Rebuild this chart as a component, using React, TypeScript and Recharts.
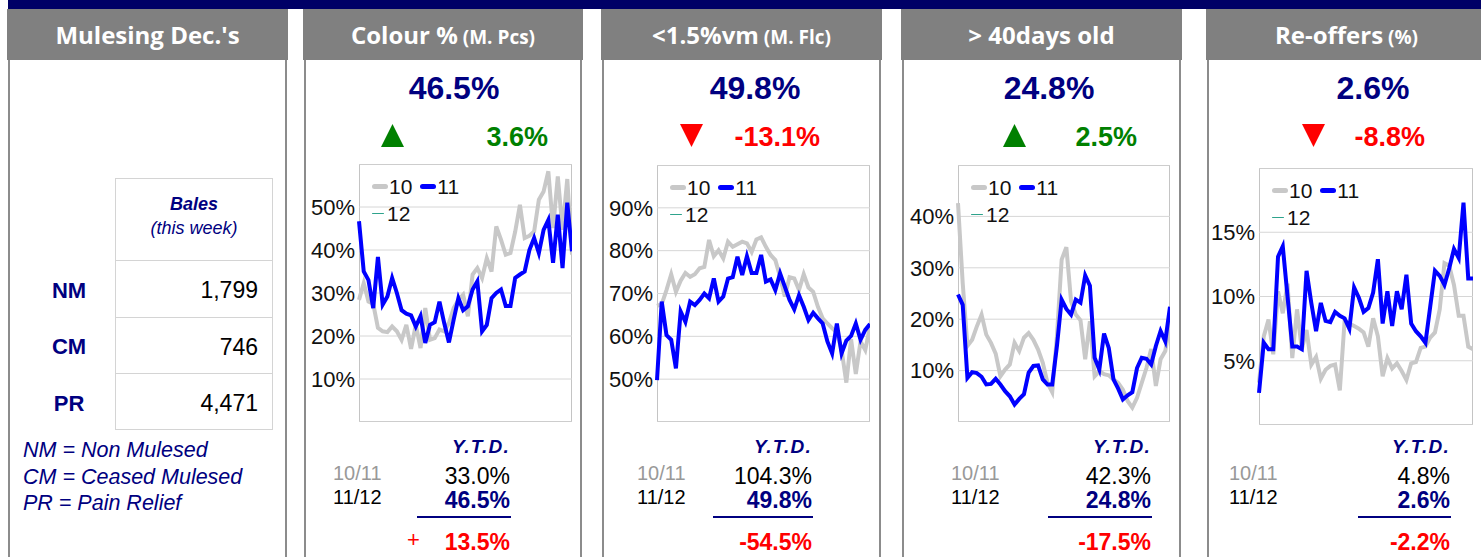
import React from 'react'
import { LineChart, Line, XAxis, YAxis, CartesianGrid, Legend } from 'recharts'

// weekly points, season 10 (grey) vs season 11 (blue); season 12 has no data yet
const weeks = [1, 2, 3, 4, 5, 6, 7, 8, 9, 10, 11, 12, 13, 14, 15, 16, 17, 18, 19, 20, 21, 22, 23, 24, 25, 26, 27, 28, 29, 30, 31, 32, 33, 34, 35, 36, 37, 38, 39, 40, 41, 42, 43, 44, 45, 46]
const seriesNames = ['10', '11', '12']

const colour10 = [28.4, 32.3, 28, 27.5, 21.9, 21.1, 20.9, 22.2, 21.1, 19.1, 22.6, 17, 22.6, 17.2, 26.5, 19.1, 19.5, 21.5, 21.1, 23, 26.5, 28.4, 29.6, 24.6, 34.3, 35.8, 33.5, 38.1, 35, 45.5, 42.4, 38.9, 39.3, 44.3, 50.5, 42.8, 43.3, 44.3, 51.7, 53.6, 58.3, 45.1, 57.1, 44.7, 56.5, 38.9]
const colour11 = [46.7, 35, 33, 26.5, 38.4, 27.3, 29.2, 33.5, 30, 26, 25.2, 24.8, 22.2, 24.6, 18.4, 22.6, 23.2, 28, 23, 18.5, 23.8, 28.8, 26, 26.9, 30.8, 32.7, 21.1, 22.6, 28.8, 30, 30.8, 27, 27, 33.5, 34.3, 35, 40, 42.8, 39.3, 44.7, 47, 37, 48.2, 35.8, 51, 39.7]

const vm10 = [67.1, 67.5, 70.8, 74.5, 70.4, 73, 74.8, 73.9, 74.5, 75.9, 76.2, 82.5, 78.7, 80.1, 78.2, 82.1, 80.9, 81.5, 82.1, 81.7, 79.7, 82.6, 83.1, 80.9, 79, 77.8, 73.9, 69.3, 73.8, 73.5, 70.8, 74.5, 71.4, 70.4, 66.9, 64.2, 63, 61.9, 60.9, 56.8, 49.2, 59.3, 51.2, 58.8, 56.8, 62.3]
const vm11 = [49.8, 68.1, 60.3, 59.2, 52.5, 65.8, 63.4, 68.1, 67.3, 68.5, 70, 68.9, 73.5, 68.1, 69.3, 73.5, 73.8, 78.6, 74.3, 78.7, 74.8, 74.8, 79, 72.8, 73.3, 70.8, 74.7, 71.6, 68.5, 66.3, 69.6, 66.9, 63.8, 65.5, 64.2, 63, 58.8, 56, 63, 56, 59, 60.1, 63, 59.2, 61.5, 62.9]

const age10 = [42.6, 27, 14.8, 16, 18.6, 20.9, 17, 15.4, 13.3, 8.9, 10.2, 11.2, 15.4, 13.8, 16.4, 17.3, 16, 14.1, 11.5, 7.6, 5.8, 16.7, 31.6, 34, 23.5, 20.9, 19.8, 12.2, 19.6, 8.9, 9.9, 9.3, 9.1, 8.3, 7.6, 6.3, 4.1, 2.8, 4.7, 7.6, 10.5, 14.2, 7, 12.2, 13.8, 19.3]
const age11 = [24.8, 22.8, 8.6, 9.7, 9.5, 8.8, 7.3, 7.4, 8.4, 7.3, 6, 5, 3.4, 4.5, 5.4, 9.6, 10.9, 11, 8.3, 7.3, 7.3, 14.8, 23.8, 22, 20.9, 23.8, 23.2, 28.5, 26.5, 12.5, 10.2, 17.2, 14.4, 8.3, 6.5, 4.4, 5.2, 5.8, 10.5, 12.5, 12.3, 11.2, 14.8, 17.7, 15.7, 22.4]

const reoffer10 = [3.3, 6.9, 8.2, 5.5, 10.4, 8.7, 11, 5.2, 9, 5.9, 7.4, 4.7, 5.3, 3.6, 4.3, 4.6, 4.7, 2.7, 8.1, 7.9, 7.7, 7.5, 7.2, 6.1, 8.3, 6.9, 3.8, 5.2, 4.4, 4.8, 4.2, 3.5, 4.8, 4.9, 6, 6.1, 6.8, 7.2, 9, 12.6, 12.4, 10.9, 8.5, 8.5, 6.1, 5.9]
const reoffer11 = [2.5, 6.4, 5.9, 5.9, 13.1, 13.9, 10, 6.1, 6.1, 5.9, 12, 9.5, 7.3, 9.5, 8.1, 8, 8.8, 8.5, 8.3, 7.5, 10.7, 9.9, 8.8, 9.1, 10.3, 12.9, 7.9, 10.4, 7.7, 10.4, 9, 11.7, 7.9, 7.3, 6.9, 6.4, 9.2, 12, 11.6, 10.9, 12.2, 13.7, 13, 17.3, 11.4, 11.4]

const colourTicks = [10, 20, 30, 40, 50]
const vmTicks = [50, 60, 70, 80, 90]
const ageTicks = [10, 20, 30, 40]
const reofferTicks = [5, 10, 15]

const titles = ['Colour %', '<1.5%vm', '> 40days old', 'Re-offers']
const subTitles = ['(M. Pcs)', '(M. Flc)', '', '(%)']
const headline = ['46.5%', '49.8%', '24.8%', '2.6%']
const weekChange = ['3.6%', '-13.1%', '2.5%', '-8.8%']
const ytdPrev = ['33.0%', '104.3%', '42.3%', '4.8%']
const ytdCur = ['46.5%', '49.8%', '24.8%', '2.6%']
const ytdDiff = ['13.5%', '-54.5%', '-17.5%', '-2.2%']

const baleLabels = ['NM', 'CM', 'PR']
const baleCounts = ['1,799', '746', '4,471']
const baleNotes = ['NM = Non Mulesed', 'CM = Ceased Mulesed', 'PR = Pain Relief']

const FONT = '"Liberation Sans", Arial, sans-serif'
const HEAD_FONT = '"Open Sans", sans-serif'
const NAVY = '#000080'
const GREY_LINE = '#c8c8c8'
const BLUE = '#0000ff'
const TEAL = '#2ea38c'
const HEADER_BG = '#808080'
const BORDER = '#8c8c8c'
const AXIS_W = 50

const panels = [
  { x: 303, w: 280, s10: colour10, s11: colour11, ticks: colourTicks, domain: [0, 60], plotLeft: 359, plotTop: 164, plotW: 213, plotH: 258, bigCx: 454, triX: 381, chgRight: 548, ytdRight: 510, labelX: 333, lineLeft: 417, up: true },
  { x: 601, w: 281, s10: vm10, s11: vm11, ticks: vmTicks, domain: [40, 100], plotLeft: 657, plotTop: 165, plotW: 213, plotH: 257, bigCx: 755, triX: 680, chgRight: 820, ytdRight: 812, labelX: 637, lineLeft: 713, up: false },
  { x: 901, w: 281, s10: age10, s11: age11, ticks: ageTicks, domain: [0, 50], plotLeft: 958, plotTop: 165, plotW: 212, plotH: 257, bigCx: 1049, triX: 1003, chgRight: 1137, ytdRight: 1151, labelX: 951, lineLeft: 1048, up: true },
  { x: 1206, w: 281, s10: reoffer10, s11: reoffer11, ticks: reofferTicks, domain: [0, 20], plotLeft: 1259, plotTop: 168, plotW: 214, plotH: 257, bigCx: 1373, triX: 1302, chgRight: 1425, ytdRight: 1450, labelX: 1229, lineLeft: 1358, up: false },
]

function Txt({ left, cy, width, align = 'left', size = 21, color = '#000', bold = false, italic = false, family = FONT, spacing = 0, children }: any) {
  const lh = Math.round(size * 1.3)
  return (
    <div style={{ position: 'absolute', left, top: cy - lh / 2, width, height: lh, lineHeight: lh + 'px', fontSize: size, fontFamily: family, color, fontWeight: bold ? 700 : 400, fontStyle: italic ? 'italic' : 'normal', textAlign: align, whiteSpace: 'nowrap', letterSpacing: spacing }}>
      {children}
    </div>
  )
}

function Frame({ x, w, children }: any) {
  return (
    <>
      <div style={{ position: 'absolute', left: x, top: 9, width: w, height: 51, background: HEADER_BG, color: '#fff', fontFamily: HEAD_FONT, fontWeight: 700, fontSize: 24, lineHeight: '51px', textAlign: 'center', whiteSpace: 'nowrap' }}>
        {children}
      </div>
      <div style={{ position: 'absolute', left: x + 1, top: 60, width: w - 2, height: 497, borderLeft: `2px solid ${BORDER}`, borderRight: `2px solid ${BORDER}`, boxSizing: 'border-box' }} />
    </>
  )
}

function LegendBox() {
  const swatch = (color: string, thick: boolean) => (
    <span style={{ display: 'inline-block', width: thick ? 16 : 12, height: thick ? 5 : 1, borderRadius: 3, background: color, marginRight: 1 }} />
  )
  return (
    <div style={{ fontFamily: FONT, fontSize: 21, color: '#111', lineHeight: '27px' }}>
      <div style={{ display: 'flex', alignItems: 'center' }}>
        {swatch(GREY_LINE, true)}<span>{seriesNames[0]}</span>
        <span style={{ width: 8 }} />
        {swatch(BLUE, true)}<span>{seriesNames[1]}</span>
      </div>
      <div style={{ display: 'flex', alignItems: 'center' }}>
        {swatch(TEAL, false)}<span style={{ marginLeft: 2 }}>{seriesNames[2]}</span>
      </div>
    </div>
  )
}

function TrendChart({ p }: any) {
  const rows = weeks.map((wk, i) => ({ week: wk, s10: p.s10[i], s11: p.s11[i], s12: null }))
  const width = p.plotW + AXIS_W
  return (
    <div style={{ position: 'absolute', left: p.plotLeft - AXIS_W, top: p.plotTop, width, height: p.plotH }}>
      <div style={{ position: 'absolute', left: AXIS_W, top: 0, width: p.plotW, height: p.plotH, border: '1px solid #c4c4c4', boxSizing: 'border-box' }} />
      <LineChart width={width} height={p.plotH} data={rows} margin={{ top: 0, right: 0, bottom: 0, left: 0 }}>
        <CartesianGrid vertical={false} stroke="#d6d6d6" />
        <XAxis dataKey="week" type="number" domain={[1, weeks.length]} hide />
        <YAxis
          domain={p.domain}
          ticks={p.ticks}
          width={AXIS_W}
          axisLine={false}
          tickLine={false}
          tickSize={2}
          tickMargin={2}
          tickFormatter={(v: number) => v + '%'}
          tick={{ fontSize: 22, fill: '#111', fontFamily: FONT }}
        />
        <Legend verticalAlign="middle" align="center" wrapperStyle={{ top: 9, left: AXIS_W + 13, width: 110, height: 56 }} content={() => <LegendBox />} />
        <Line name={seriesNames[0]} dataKey="s10" stroke={GREY_LINE} strokeWidth={4} dot={false} isAnimationActive={false} />
        <Line name={seriesNames[1]} dataKey="s11" stroke={BLUE} strokeWidth={4} dot={false} isAnimationActive={false} />
        <Line name={seriesNames[2]} dataKey="s12" stroke={TEAL} strokeWidth={1} dot={false} isAnimationActive={false} />
      </LineChart>
    </div>
  )
}

function Triangle({ left, up, color }: any) {
  return (
    <svg style={{ position: 'absolute', left, top: 124 }} width={23} height={23}>
      <polygon points={up ? '11.5,0 23,23 0,23' : '0,0 23,0 11.5,23'} fill={color} />
    </svg>
  )
}

function MetricPanel({ p, i }: any) {
  const chgColor = p.up ? '#008000' : '#ff0000'
  return (
    <>
      <Frame x={p.x} w={p.w}>
        {titles[i]}
        {subTitles[i] && <span style={{ fontSize: 19 }}> {subTitles[i]}</span>}
      </Frame>
      <Txt left={p.bigCx - 100} width={200} cy={88} align="center" size={32} bold color={NAVY}>{headline[i]}</Txt>
      <Triangle left={p.triX} up={p.up} color={chgColor} />
      <Txt left={p.chgRight - 150} width={150} cy={137} align="right" size={27} bold color={chgColor}>{weekChange[i]}</Txt>
      <TrendChart p={p} />
      <Txt left={p.ytdRight - 150} width={150} cy={446} align="right" size={19} bold italic color={NAVY} spacing={1.2}>Y.T.D.</Txt>
      <Txt left={p.labelX} cy={473} size={20} color="#999">10/11</Txt>
      <Txt left={p.labelX} cy={497} size={20} color="#000">11/12</Txt>
      <Txt left={p.ytdRight - 150} width={150} cy={476} align="right" size={23} color="#000">{ytdPrev[i]}</Txt>
      <Txt left={p.ytdRight - 150} width={150} cy={500} align="right" size={23} bold color={NAVY}>{ytdCur[i]}</Txt>
      <div style={{ position: 'absolute', left: p.lineLeft, top: 516, width: p.ytdRight + 1 - p.lineLeft, height: 2, background: NAVY }} />
      {i === 0 && <Txt left={407} cy={539} size={22} color="#ff0000">+</Txt>}
      <Txt left={p.ytdRight - 150} width={150} cy={542} align="right" size={23} bold color="#ff0000">{ytdDiff[i]}</Txt>
    </>
  )
}

function BalesPanel() {
  const rowTops = [260, 317, 373]
  return (
    <>
      <Frame x={7} w={281}>Mulesing Dec.'s</Frame>
      <div style={{ position: 'absolute', left: 115, top: 178, width: 158, height: 252, border: '1px solid #d4d4d4', boxSizing: 'border-box' }} />
      {rowTops.map((t) => (
        <div key={t} style={{ position: 'absolute', left: 115, top: t, width: 158, height: 1, background: '#d4d4d4' }} />
      ))}
      <Txt left={115} width={158} cy={204} align="center" size={18} bold italic color={NAVY}>Bales</Txt>
      <Txt left={115} width={158} cy={228} align="center" size={18} italic color={NAVY}>(this week)</Txt>
      {baleLabels.map((l, k) => (
        <React.Fragment key={l}>
          <Txt left={30} width={78} cy={290 + k * 56.5} align="center" size={22} bold color={NAVY}>{l}</Txt>
          <Txt left={108} width={150} cy={290 + k * 56.5} align="right" size={23} color="#000">{baleCounts[k]}</Txt>
        </React.Fragment>
      ))}
      {baleNotes.map((n, k) => (
        <Txt key={n} left={23} cy={450 + k * 26.5} size={21.5} italic color={NAVY}>{n}</Txt>
      ))}
    </>
  )
}

export default function App() {
  return (
    <div style={{ position: 'absolute', left: 0, top: 0, width: 1481, height: 557, overflow: 'hidden', background: '#fff' }}>
      <div style={{ position: 'absolute', left: 8, top: 0, width: 1473, height: 9, background: '#000066' }} />
      <BalesPanel />
      {panels.map((p, i) => (
        <MetricPanel key={i} p={p} i={i} />
      ))}
    </div>
  )
}
